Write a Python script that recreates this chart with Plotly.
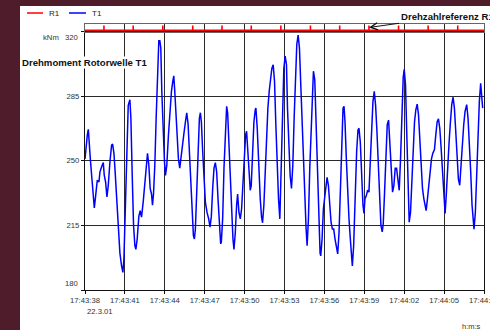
import pandas as pd
import plotly.graph_objects as go

# ---------------- data ----------------
base_time = "2001-03-22 17:43:38"
date_label = "22.3.01"

# T1: torque, seconds after 17:43:38 and value in kNm
t1_seconds = [
    0.0, 0.075, 0.175, 0.25, 0.325, 0.4, 0.5, 0.625, 0.7, 0.8, 0.925, 1.05, 1.125, 1.25, 1.375,
    1.45, 1.55, 1.65, 1.75, 1.875, 2.0, 2.075, 2.175, 2.25, 2.375, 2.5, 2.625, 2.75, 2.85, 2.925,
    3.05, 3.15, 3.25, 3.375, 3.45, 3.55, 3.65, 3.75, 3.825, 3.925, 4.05, 4.15, 4.25, 4.375, 4.5,
    4.625, 4.7, 4.8, 4.9, 5.0, 5.075, 5.15, 5.25, 5.35, 5.45, 5.55, 5.625, 5.7, 5.775, 5.875,
    5.975, 6.05, 6.15, 6.275, 6.4, 6.5, 6.6, 6.675, 6.75, 6.825, 6.925, 7.025, 7.125, 7.25,
    7.425, 7.55, 7.65, 7.75, 7.85, 7.95, 8.05, 8.15, 8.225, 8.3, 8.4, 8.5, 8.6, 8.675, 8.75,
    8.85, 8.95, 9.05, 9.175, 9.3, 9.4, 9.5, 9.6, 9.7, 9.8, 9.9, 10.0, 10.1, 10.2, 10.25, 10.35,
    10.45, 10.55, 10.65, 10.725, 10.825, 10.925, 11.025, 11.125, 11.2, 11.3, 11.4, 11.475,
    11.575, 11.675, 11.775, 11.875, 11.975, 12.075, 12.15, 12.25, 12.35, 12.425, 12.5, 12.6,
    12.7, 12.8, 12.85, 12.95, 13.05, 13.175, 13.275, 13.35, 13.45, 13.55, 13.65, 13.75, 13.85,
    13.95, 14.05, 14.15, 14.25, 14.35, 14.45, 14.55, 14.65, 14.75, 14.85, 14.95,
    15.05, 15.15, 15.225, 15.325, 15.425, 15.525, 15.625, 15.725, 15.825, 15.925, 16.025,
    16.125, 16.225, 16.325, 16.425, 16.525, 16.625, 16.7, 16.8, 16.9, 17.0, 17.1, 17.175,
    17.275, 17.375, 17.475, 17.575, 17.675, 17.725, 17.825, 17.925, 18.025, 18.125, 18.2,
    18.3, 18.4, 18.5, 18.6, 18.7, 18.8, 18.9, 19.0, 19.1, 19.2, 19.3, 19.4, 19.475, 19.55,
    19.65, 19.75, 19.85, 19.95, 20.05, 20.1, 20.2, 20.3, 20.425, 20.525, 20.6, 20.7, 20.8,
    20.9, 20.975, 21.05, 21.15, 21.25, 21.35, 21.45, 21.55, 21.65, 21.75, 21.85, 21.95, 22.05,
    22.15, 22.25, 22.35, 22.425, 22.525, 22.625, 22.725, 22.825, 22.925, 23.025, 23.125,
    23.225, 23.325, 23.425, 23.525, 23.625, 23.725, 23.825, 23.925, 24.0, 24.1, 24.175,
    24.275, 24.375, 24.475, 24.575, 24.675, 24.775, 24.875, 24.975, 25.075, 25.175, 25.275,
    25.375, 25.475, 25.575, 25.65, 25.75, 25.85, 25.95, 26.05, 26.15, 26.275, 26.375, 26.475,
    26.575, 26.675, 26.775, 26.875, 26.975, 27.075, 27.175, 27.275, 27.375, 27.475, 27.575,
    27.675, 27.775, 27.875, 27.975, 28.075, 28.175, 28.275, 28.375, 28.475, 28.575, 28.7,
    28.8, 28.9, 29.0, 29.1, 29.2, 29.25, 29.35, 29.45, 29.55, 29.65, 29.75, 29.825, 29.9,
]
t1_values = [
    251, 258.5, 264, 267, 261, 251, 242, 227.6, 224.4, 231, 239.5, 238.5, 244, 246.7, 249,
    242, 238.5, 230.4, 236.7, 249.5, 258.5, 259, 254, 246, 229.5, 215, 200, 193, 189.5, 196.7,
    226, 260, 280, 283, 273, 242, 215, 204, 202, 207.6, 220, 223, 219.5, 227.6, 236.7,
    249.5, 254, 247.6, 235, 232, 226, 232, 247.6, 273, 302, 315, 315, 311, 287.5, 264,
    249.5, 242, 247.6, 264, 278.5, 287.6, 293, 296, 287.6, 276.7, 264, 251, 246, 255,
    264, 271, 276, 270, 255, 233, 218.5, 209.5, 207.6, 213, 233, 255, 273, 276, 271,
    255, 238.5, 227.6, 222, 218.5, 214, 220, 235, 246, 249, 244, 229.5, 215, 205, 206, 218.5,
    246, 266, 279.5, 276, 257, 236.7, 218.5, 207.6, 202, 211, 226, 232,
    222, 218.5, 224, 240, 257, 264, 266, 255, 238.5, 234, 236.7, 255,
    271, 277.6, 278.5, 267.6, 247.6, 229.5, 219.5, 216.4, 226, 246, 266, 278.5, 287.6,
    295, 300, 302, 293, 269.5, 246, 229.5, 218.5, 242, 278.5, 300,
    306.7, 302, 278.5, 255, 242, 235, 247.6, 273, 298.5, 313, 318,
    311, 291, 269.5, 247.6, 227.6, 213, 204, 218.5, 246, 269.5, 291, 298.5,
    294, 269.5, 242, 218.5, 200, 198.5, 207.6, 224, 231, 238.5, 241,
    236.7, 226, 216.7, 213, 213, 207.6, 204, 199.5, 211, 236.7, 260, 278.5, 279.5, 271,
    251, 233, 218.5, 207.6, 198.5, 193, 204, 229.5, 255, 266.7, 267.6, 260, 242,
    226, 221.5, 229.5, 231, 234, 233, 251, 269.5, 282, 287.6, 280, 266, 247.6,
    227.6, 215, 211.5, 216, 233, 255, 269.5, 272, 260, 242, 233,
    236.7, 246, 246, 240, 234, 251, 276.7, 295, 299.5, 291, 269.5,
    236.7, 216.7, 222, 242, 260, 271, 277.6, 280.7, 275, 260, 246,
    235, 229.5, 226, 223, 229.5, 236.7, 244, 251, 254, 256, 264, 271,
    272.7, 267.6, 257, 246, 229.5, 221.5, 233, 251, 260, 271, 280.4,
    284.4, 278.5, 266, 251, 240, 236.7, 249.5, 260, 269.5, 276.7, 280.4,
    273, 260, 244, 226, 216.7, 213, 222, 242, 264, 282, 292, 284, 278.5,
]

# R1: speed reference pulses, seconds after 17:43:38
r1_pulse_seconds = [1.425, 3.625, 5.85, 8.1, 10.3, 12.5, 14.725, 16.95, 19.15, 21.35,
                    23.575, 25.8, 28.025]

x_tick_labels = ["17:43:38", "17:43:41", "17:43:44", "17:43:47", "17:43:50", "17:43:53",
                 "17:43:56", "17:43:59", "17:44:02", "17:44:05", "17:44:08"]
y_tick_values = [180, 215, 250, 285, 320]
y_unit = "kNm"
x_unit = "h:m:s"
title_text = "Drehmoment Rotorwelle T1"
ref_note = "Drehzahlreferenz R1"

# ---------------- build ----------------
t0 = pd.Timestamp(base_time)
t1_x = [t0 + pd.to_timedelta(s, unit="s") for s in t1_seconds]

r1_x, r1_y = [t0], [0]
for s in r1_pulse_seconds:
    ts = t0 + pd.to_timedelta(s, unit="s")
    r1_x += [ts, ts, ts]
    r1_y += [0, 0.85, 0]
t_end = pd.Timestamp("2001-03-22 " + x_tick_labels[-1])
r1_x.append(t_end)
r1_y.append(0)

tick_vals = [pd.Timestamp("2001-03-22 " + lab) for lab in x_tick_labels]

W, H = 490, 330
ML, MR, MT, MB = 85, 6, 24, 40
PW, PH = W - ML - MR, H - MT - MB
def px(x):
    return (x - ML) / PW
def py(y):
    return (H - MB - y) / PH

main_top = py(31.5)
FONT = "Liberation Sans, Arial, sans-serif"
GRID = "#2a2a2a"
TICKC = "#333333"

fig = go.Figure()
fig.add_trace(go.Scatter(x=t1_x, y=t1_values, mode="lines", name="T1",
                         line=dict(color="#0000ff", width=1.5),
                         xaxis="x", yaxis="y", showlegend=False))
fig.add_trace(go.Scatter(x=r1_x, y=r1_y, mode="lines", name="R1",
                         line=dict(color="#ff0000", width=1.6),
                         xaxis="x2", yaxis="y2", showlegend=False))

xrange = [t0, t_end]
fig.update_layout(
    width=W, height=H,
    margin=dict(l=ML, r=MR, t=MT, b=MB, autoexpand=False),
    paper_bgcolor="#4f1c2b",
    plot_bgcolor="white",
    font=dict(family=FONT, size=8, color=TICKC),
    xaxis=dict(domain=[0, 1], anchor="y", type="date", range=xrange, automargin=False,
               tickvals=tick_vals, ticktext=x_tick_labels, ticklabeloverflow="allow",
               showgrid=True, gridcolor=GRID, gridwidth=1.2,
               showline=True, linecolor="#111", linewidth=1.3, mirror=True,
               ticks="outside", ticklen=3, tickcolor="#111",
               tickfont=dict(size=7.7, color=TICKC), zeroline=False),
    yaxis=dict(domain=[0, main_top], anchor="x", range=[180, 320], automargin=False,
               tickvals=y_tick_values,
               ticktext=["" if v in (y_tick_values[0], y_tick_values[-1]) else str(v)
                         for v in y_tick_values],
               showgrid=True, gridcolor=GRID, gridwidth=1.3,
               showline=True, linecolor="#111", linewidth=1.3, mirror=True,
               ticks="outside", ticklen=3, tickcolor="#111",
               tickfont=dict(size=7.7, color=TICKC), zeroline=False),
    xaxis2=dict(domain=[0, 1], anchor="y2", type="date", range=xrange, automargin=False,
                matches="x", tickvals=tick_vals, showticklabels=False,
                showgrid=True, gridcolor=GRID, gridwidth=1.2,
                showline=True, linecolor="#666", linewidth=1, mirror=True,
                ticks="", zeroline=False),
    yaxis2=dict(domain=[main_top, 1], anchor="x2", range=[-0.2, 1.1], automargin=False,
                showticklabels=False, showgrid=False, zeroline=False,
                showline=True, linecolor="#666", linewidth=1, mirror=True, ticks=""),
)

shapes = [
    dict(type="rect", xref="paper", yref="paper", layer="below",
         x0=px(20), x1=px(W + 5), y0=py(H + 5), y1=py(6),
         fillcolor="white", line=dict(width=0)),
    dict(type="line", xref="paper", yref="paper", x0=px(27), x1=px(43), y0=py(13), y1=py(13),
         line=dict(color="#ff0000", width=1.5)),
    dict(type="line", xref="paper", yref="paper", x0=px(69), x1=px(86), y0=py(13), y1=py(13),
         line=dict(color="#0000ff", width=1.5)),
]
fig.update_layout(shapes=shapes)

ann = [
    dict(text="R1", x=px(47), y=py(13), xanchor="left", yanchor="middle",
         font=dict(size=8, color="#222")),
    dict(text="T1", x=px(90), y=py(13), xanchor="left", yanchor="middle",
         font=dict(size=8, color="#222")),
    dict(text=y_unit, x=px(61), y=py(37), xanchor="right", yanchor="middle",
         font=dict(size=7.7, color=TICKC)),
    dict(text=str(y_tick_values[-1]), x=px(79.5), y=py(37), xanchor="right", yanchor="middle",
         font=dict(size=7.7, color=TICKC)),
    dict(text=str(y_tick_values[0]), x=px(79.5), y=py(283), xanchor="right", yanchor="middle",
         font=dict(size=7.7, color=TICKC)),
    dict(text="<b>" + title_text + "</b>", x=px(20.5), y=py(62), xanchor="left",
         yanchor="middle", bgcolor="white", borderpad=0,
         font=dict(size=9.6, color="#111")),
    dict(text=date_label, x=px(85), y=py(311), xanchor="left", yanchor="middle",
         font=dict(size=7.7, color=TICKC)),
    dict(text=x_unit, x=px(483), y=py(326.5), xanchor="right", yanchor="middle",
         font=dict(size=7.5, color=TICKC)),
]
for a in ann:
    a.update(xref="paper", yref="paper", showarrow=False)

ann.append(dict(text="<b>" + ref_note + "</b>", xref="paper", yref="paper",
                x=px(369), y=py(27.5), ax=78, ay=-11,
                showarrow=True, arrowhead=5, arrowsize=1.4, arrowwidth=1, arrowcolor="#111",
                font=dict(size=9.6, color="#111"), xanchor="center", yanchor="middle"))
fig.update_layout(annotations=ann)

fig.write_html("out.html")
